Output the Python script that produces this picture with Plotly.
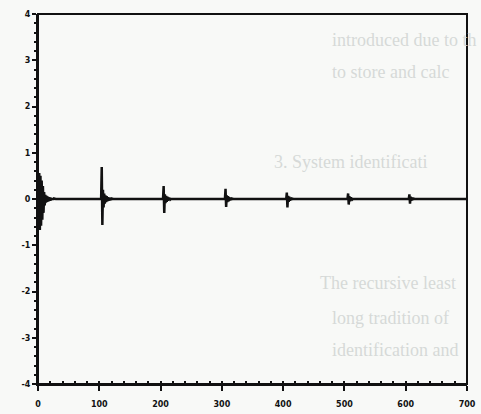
import plotly.graph_objects as go

# Sample axis and burst data (periodic excitation, decaying ringing)
n_samples = 701
burst_starts = [2, 104, 205, 306, 406, 506, 606]
burst_1 = [0.56, -0.67, 0.50, -0.58, 0.40, -0.45, 0.28, -0.30, 0.15, -0.14,
           0.09, -0.08, 0.07, -0.06, 0.05, -0.05, 0.04, -0.04, 0.03, -0.03,
           0.02, -0.02, 0.02, -0.01, 0.01]
burst_2 = [0.69, -0.56, 0.20, -0.18, 0.12, -0.10, 0.08, -0.07, 0.06, -0.05,
           0.04, -0.04, 0.03, -0.03, 0.02, -0.02, 0.01]
burst_3 = [0.28, -0.30, 0.10, -0.09, 0.07, -0.06, 0.05, -0.04, 0.03, -0.02,
           0.02, -0.01]
burst_4 = [0.22, -0.17, 0.08, -0.07, 0.06, -0.05, 0.04, -0.03, 0.02, -0.02, 0.01]
burst_5 = [0.14, -0.18, 0.07, -0.06, 0.05, -0.04, 0.03, -0.02, 0.01]
burst_6 = [0.12, -0.12, 0.06, -0.05, 0.04, -0.03, 0.02, -0.01]
burst_7 = [0.10, -0.10, 0.05, -0.04, 0.03, -0.02, 0.01]
bursts = [burst_1, burst_2, burst_3, burst_4, burst_5, burst_6, burst_7]

x_tick_vals = [0, 100, 200, 300, 400, 500, 600, 700]
x_tick_text = ["0", "100", "200", "300", "400", "500", "600", "700"]
y_tick_vals = [-4, -3, -2, -1, 0, 1, 2, 3, 4]
y_tick_text = ["-4", "-3", "-2", "-1", "0", "1", "2", "3", "4"]

# Show-through text from the facing page
page_lines = ["introduced due to th", "to store and calc", "3. System identificati",
              "The recursive least", "long tradition of", "identification and"]
page_x = [0.681, 0.681, 0.545, 0.653, 0.681, 0.681]
page_y = [0.930, 0.843, 0.600, 0.273, 0.178, 0.092]

# Assemble the sequence: flat zero baseline with bursts placed at their starts
k = list(range(n_samples))
signal = [0.0] * n_samples
for start, values in zip(burst_starts, bursts):
    for i, v in enumerate(values):
        signal[start + i] = v

fig = go.Figure()
fig.add_trace(go.Scatter(
    x=k, y=signal, mode="lines",
    line=dict(color="#111111", width=2.5),
    hoverinfo="skip", showlegend=False,
))

for txt, px, py in zip(page_lines, page_x, page_y):
    fig.add_annotation(
        text=txt, x=px, y=py, xref="paper", yref="paper",
        xanchor="left", yanchor="middle", showarrow=False,
        font=dict(family="Liberation Serif", size=18, color="#d6d9d8"),
    )

# Plot frame
fig.add_shape(type="rect", xref="paper", yref="paper", x0=0, y0=0, x1=1, y1=1,
              line=dict(color="#111111", width=2), layer="above")

tick_font = dict(family="DejaVu Sans", size=8, color="#111111", weight="bold")
fig.update_xaxes(
    range=[0, 700], tickvals=x_tick_vals, ticktext=x_tick_text,
    showline=True, linecolor="#111111", linewidth=2,
    ticks="outside", ticklen=5, tickwidth=2, tickcolor="#111111",
    minor=dict(dtick=20, ticks="inside", ticklen=3, tickwidth=1.5, tickcolor="#111111"),
    showgrid=False, zeroline=False, tickfont=tick_font, ticklabelstandoff=6,
    automargin=False,
)
fig.update_yaxes(
    range=[-4, 4], tickvals=y_tick_vals, ticktext=y_tick_text,
    showline=True, linecolor="#111111", linewidth=2,
    ticks="outside", ticklen=4, tickwidth=2, tickcolor="#111111",
    minor=dict(dtick=0.2, ticks="outside", ticklen=2, tickwidth=1.5, tickcolor="#111111"),
    showgrid=False, zeroline=False, tickfont=tick_font, automargin=False,
)
fig.update_layout(
    width=481, height=414,
    margin=dict(l=38, r=14, t=14, b=30),
    paper_bgcolor="#f8f9f7", plot_bgcolor="#f8f9f7",
)
fig.write_html("out.html")
